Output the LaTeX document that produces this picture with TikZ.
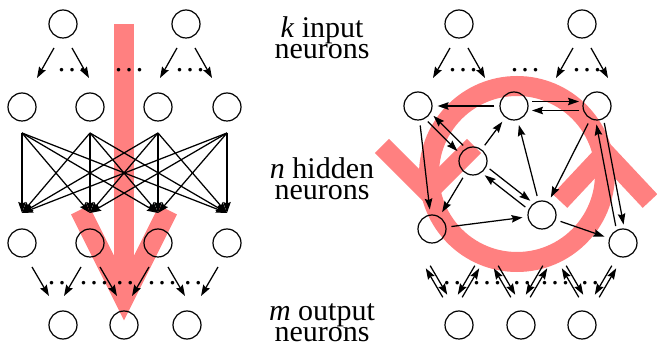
\documentclass[tikz,border=0pt]{standalone}
\usepackage{fontspec}
\setmainfont{Liberation Serif}
\usetikzlibrary{arrows.meta,calc}
\definecolor{bandred}{RGB}{255,128,128}
\tikzset{
  neuron/.style={circle, draw, line width=1.2pt, minimum size=28pt, inner sep=0pt},
  ar/.style={-{Stealth[length=11pt,width=7.5pt,inset=1.5pt]}, line width=1.25pt},
  ra/.style={{Stealth[length=11pt,width=7.5pt,inset=1.5pt]}-, line width=1.25pt},
  conn/.style={ar, shorten <=5pt, shorten >=5pt},
  twin/.style={ar, shorten <=18pt, shorten >=18pt},
  band/.style={draw=bandred, line width=20pt},
  dotsl/.style={font=\fontsize{30}{30}\selectfont, anchor=base, inner sep=0pt},
  lbl/.style={font=\fontsize{30}{21}\selectfont, align=center, inner sep=0pt}
}
\newcommand{\tridots}{.\kern3pt.\kern3pt.}
\newcommand{\duodots}{.\kern3pt.}
\begin{document}
\begin{tikzpicture}[x=1pt,y=-1pt]
\useasboundingbox (0,0) rectangle (657,347);
% red marks (behind)
\draw[band] (124,24) -- (124,290);
\draw[band, line join=miter] (80,210) -- (124,298) -- (168,210);
\draw[band] (517,174) circle (88pt);
\draw[band, line join=miter] (382,146) -- (428,192) -- (474,146);
\draw[band, line join=miter] (560,201) -- (605,153) -- (650,201);

% feed-forward net
\node[neuron] (li1) at (63,24) {};
\node[neuron] (li2) at (186,24) {};
\foreach \x [count=\i] in {22,90,158,227} {
  \node[neuron] (lh\i) at (\x,107) {};
  \node[neuron] (lg\i) at (\x,243) {};
  \coordinate (lhs\i) at (\x,133);
  \coordinate (lgn\i) at (\x,213);
}
\node[neuron] (lo1) at (63,325) {};
\node[neuron] (lo2) at (124,325) {};
\node[neuron] (lo3) at (187,325) {};
\foreach \n in {li1,li2} {
  \draw[ar] (\n) ++(-9,24) -- ++(-17,30);
  \draw[ar] (\n) ++(9,24) -- ++(17,30);
}
\foreach \i in {1,...,4}
  \foreach \j in {1,...,4}
    \draw[ar] (lhs\i) -- (lgn\j);
\draw[ar] (lg1) ++(10,24) -- ++(17,29);
\foreach \i in {2,3} {
  \draw[ar] (lg\i) ++(-9,24) -- ++(-17,29);
  \draw[ar] (lg\i) ++(10,24) -- ++(17,29);
}
\draw[ar] (lg4) ++(-9,24) -- ++(-17,29);
\node[dotsl] (ld1) at (72,72) {\tridots};
\node[dotsl] (ld2) at (129,72) {\tridots};
\node[dotsl] (ld3) at (190,72) {\tridots};
\node[dotsl] (ld4) at (57,285) {\duodots};
\node[dotsl] (ld5) at (94,285) {\tridots};
\node[dotsl] (ld6) at (125,285) {\duodots};
\node[dotsl] (ld7) at (162,285) {\tridots};
\node[dotsl] (ld8) at (193,285) {\duodots};

% labels
\node[lbl] (tk) at (322,38) {\textit{k} input\\neurons};
\node[lbl] (tn) at (322,179) {\textit{n} hidden\\neurons};
\node[lbl] (tm) at (322,323) {\textit{m} output\\neurons};

% recurrent net
\node[neuron] (ri1) at (459,24) {};
\node[neuron] (ri2) at (582,24) {};
\node[neuron] (rh1) at (418,106) {};
\node[neuron] (rh2) at (514,106) {};
\node[neuron] (rh3) at (597,106) {};
\node[neuron] (rh4) at (473,161) {};
\node[neuron] (rh5) at (542,215) {};
\node[neuron] (rh6) at (432,229) {};
\node[neuron] (rh7) at (623,243) {};
\node[neuron] (ro1) at (459,325) {};
\node[neuron] (ro2) at (521,325) {};
\node[neuron] (ro3) at (582,325) {};
\foreach \n in {ri1,ri2} {
  \draw[ar] (\n) ++(-9,24) -- ++(-17,30);
  \draw[ar] (\n) ++(9,24) -- ++(17,30);
}
\draw[conn] (rh2) -- (rh1);
\draw[conn] (rh1) -- (rh6);
\draw[conn] (rh4) -- (rh2);
\draw[conn] (rh4) -- (rh6);
\draw[conn] (rh5) -- (rh2);
\draw[conn] (rh3) -- (rh5);
\draw[conn] (rh6) -- (rh5);
\draw[conn] (rh5) -- (rh7);
\draw[twin] ($(rh2)!4.5pt!90:(rh3)$) -- ($(rh3)!4.5pt!-90:(rh2)$);
\draw[twin] ($(rh3)!4.5pt!90:(rh2)$) -- ($(rh2)!4.5pt!-90:(rh3)$);
\draw[twin] ($(rh1)!4pt!-90:(rh4)$) -- ($(rh4)!4pt!90:(rh1)$);
\draw[twin] ($(rh4)!4pt!-90:(rh1)$) -- ($(rh1)!4pt!90:(rh4)$);
\draw[twin] ($(rh3)!4pt!90:(rh7)$) -- ($(rh7)!4pt!-90:(rh3)$);
\draw[twin] ($(rh7)!4pt!90:(rh3)$) -- ($(rh3)!4pt!-90:(rh7)$);
\draw[twin] ($(rh4)!4pt!90:(rh5)$) -- ($(rh5)!4pt!-90:(rh4)$);
\draw[twin] ($(rh5)!4pt!90:(rh4)$) -- ($(rh4)!4pt!-90:(rh5)$);
% output ports
\foreach \x [count=\i] in {418,486,554,623}
  \coordinate (rg\i) at (\x,243);
\draw[ar] (rg1) ++(12.2,22.7) -- ++(17,29);
\draw[ra] (rg1) ++(7.8,25.3) -- ++(17,29);
\foreach \i in {2,3} {
  \draw[ar] (rg\i) ++(-11.2,22.7) -- ++(-17,29);
  \draw[ra] (rg\i) ++(-6.8,25.3) -- ++(-17,29);
  \draw[ar] (rg\i) ++(12.2,22.7) -- ++(17,29);
  \draw[ra] (rg\i) ++(7.8,25.3) -- ++(17,29);
}
\draw[ar] (rg4) ++(-11.2,22.7) -- ++(-17,29);
\draw[ra] (rg4) ++(-6.8,25.3) -- ++(-17,29);
\node[dotsl] (rd1) at (463,72) {\tridots};
\node[dotsl] (rd2) at (525,72) {\tridots};
\node[dotsl] (rd3) at (587,72) {\tridots};
\node[dotsl] (rd4) at (452,285) {\duodots};
\node[dotsl] (rd5) at (487,285) {\tridots};
\node[dotsl] (rd6) at (522,285) {\duodots};
\node[dotsl] (rd7) at (555,285) {\tridots};
\node[dotsl] (rd8) at (590,285) {\duodots};
\end{tikzpicture}
\end{document}
